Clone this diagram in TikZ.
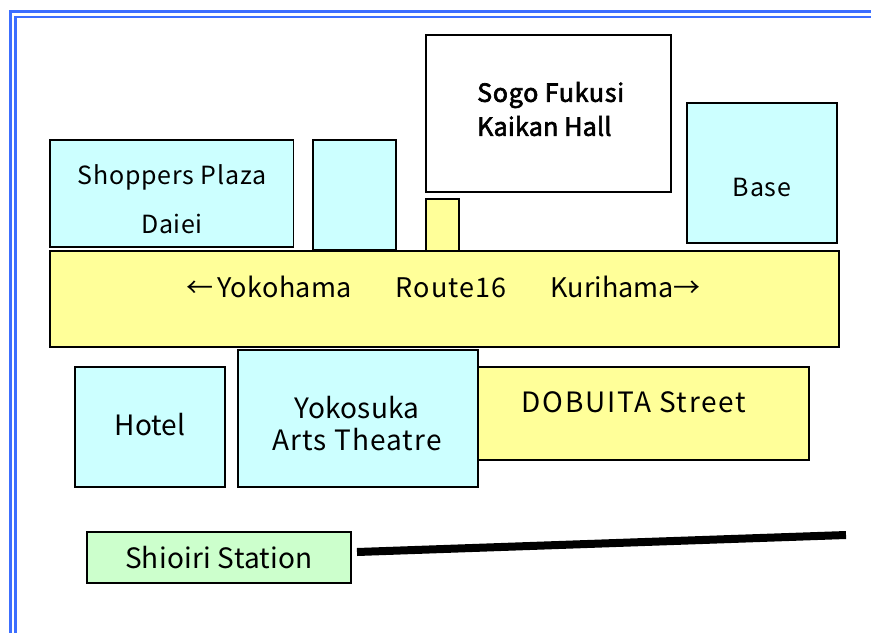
\documentclass[tikz,border=0pt]{standalone}
\usepackage{fontspec}
\setmainfont{Noto Sans CJK JP}
\newfontfamily\fakebold[FakeBold=2.5]{Noto Sans CJK JP}
\newcommand{\lsp}[1]{\addfontfeatures{LetterSpace=#1}}
\definecolor{framec}{HTML}{3C6EFF}
\definecolor{cyanbox}{HTML}{CCFFFF}
\definecolor{yellowbox}{HTML}{FFFF99}
\definecolor{greenbox}{HTML}{CCFFCC}
\tikzset{
  bx/.style={draw=black,line width=1.5pt,rectangle,inner sep=0pt},
  lbl/.style={inner sep=0pt,text=black,font=\fontsize{#1}{#1}\selectfont},
  frameline/.style={draw=framec,line width=3pt}
}
\newcommand{\bxnode}[6]{%
  \path[bx,fill=#6] (#2,#3) rectangle (#4,#5);
  \node[inner sep=0pt,minimum size=0pt] (#1) at ({(#2+#4)/2},{(#3+#5)/2}) {};
}
\begin{document}
\begin{tikzpicture}[x=1pt,y=-1pt]
\useasboundingbox (0,0) rectangle (871,633);
\fill[white] (0,0) rectangle (871,633);
\draw[frameline] (871,11.5) -- (10,11.5) -- (10,633);
\draw[frameline,line width=2.6pt] (871,16.8) -- (15.3,16.8) -- (15.3,633);
\bxnode{shoppers}{50}{140}{293.5}{247}{cyanbox}
\bxnode{annex}{313}{140}{396}{250}{cyanbox}
\bxnode{sogo}{426}{35}{671}{192}{white}
\bxnode{small}{426}{199}{459}{252}{yellowbox}
\bxnode{base}{687}{103}{837}{243}{cyanbox}
\bxnode{route}{50}{251}{839}{347}{yellowbox}
\bxnode{hotel}{75}{367}{225}{487}{cyanbox}
\bxnode{dobuita}{470}{367}{809}{460}{yellowbox}
\bxnode{theatre}{238}{350}{478}{487}{cyanbox}
\bxnode{station}{87}{532}{351}{583}{greenbox}
\node[lbl=25] (t1) at (172,177) {\lsp{3}Shoppers Plaza};
\node[lbl=25] (t2) at (172,224) {\lsp{1.5}Daiei};
\node[lbl=25,anchor=west] (t3) at (477,95) {\fakebold\lsp{3}Sogo Fukusi};
\node[lbl=25,anchor=west] (t4) at (477,126) {\fakebold\lsp{1}Kaikan Hall};
\node[lbl=25] (t5) at (762,187) {\lsp{3}Base};
\node[lbl=27,anchor=west] (t6) at (186,287) {←\hspace{4pt}\lsp{1.5}Yokohama\hspace{44pt}\lsp{4}Route16\hspace{44pt}\lsp{0}Kurihama→};
\node[lbl=28] (t7) at (150,425) {Hotel};
\node[lbl=28] (t8) at (357,408) {\lsp{1}Yokosuka};
\node[lbl=28] (t9) at (357,440) {\lsp{4}Arts Theatre};
\node[lbl=28] (t10) at (634,402) {\lsp{6}DOBUITA Street};
\node[lbl=28] (t11) at (219,558) {\lsp{1}Shioiri Station};
\coordinate (railA) at (357,552);
\coordinate (railB) at (846,535);
\draw[line width=8pt] (railA) -- (railB);
\end{tikzpicture}
\end{document}
